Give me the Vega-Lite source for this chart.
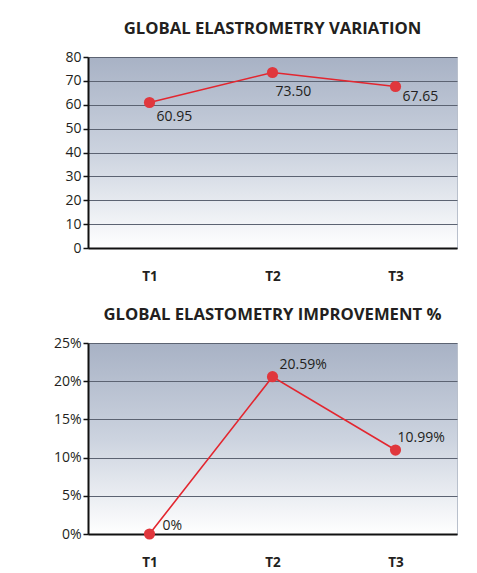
{
  "$schema": "https://vega.github.io/schema/vega-lite/v6.json",
  "background": "white",
  "padding": {"left": 52, "top": 20, "right": 15, "bottom": 8},
  "spacing": 23,
  "datasets": {
    "variation": [
      {"time": "T1", "score": 60.95},
      {"time": "T2", "score": 73.50},
      {"time": "T3", "score": 67.65}
    ],
    "improvement": [
      {"time": "T1", "pct": 0},
      {"time": "T2", "pct": 0.2059},
      {"time": "T3", "pct": 0.1099}
    ]
  },
  "config": {
    "font": "Open Sans",
    "axis": {
      "title": null,
      "labelFont": "Open Sans",
      "labelFontSize": 14,
      "labelColor": "#231f20",
      "domainColor": "#111111",
      "domainWidth": 2,
      "tickColor": "#111111",
      "tickSize": 5,
      "tickWidth": 1.5,
      "gridColor": "#5c6372",
      "gridWidth": 1
    },
    "axisX": {"ticks": false, "grid": false, "labelFontWeight": "bold", "labelPadding": 21, "labelAngle": 0, "labelFontSize": 13.5},
    "axisY": {"grid": true, "labelPadding": 2},
    "view": {
      "stroke": "#b9c0cc",
      "fill": {
        "gradient": "linear",
        "x1": 0, "y1": 0, "x2": 0, "y2": 1,
        "stops": [
          {"offset": 0, "color": "#a8b2c5"},
          {"offset": 0.5, "color": "#ccd3df"},
          {"offset": 1, "color": "#ffffff"}
        ]
      }
    },
    "title": {"font": "Open Sans", "fontSize": 16.7, "fontWeight": "bold", "color": "#231f20", "anchor": "middle", "offset": 12},
    "text": {"font": "Open Sans", "fontSize": 14, "color": "#231f20", "align": "left", "baseline": "middle", "letterSpacing": -0.4}
  },
  "vconcat": [
    {
      "title": "GLOBAL ELASTROMETRY VARIATION",
      "width": 369,
      "height": 191,
      "data": {"name": "variation"},
      "encoding": {
        "x": {"field": "time", "type": "nominal", "sort": null, "scale": {"type": "point", "padding": 0.5}},
        "y": {"field": "score", "type": "quantitative", "scale": {"domain": [0, 80]}, "axis": {"values": [0, 10, 20, 30, 40, 50, 60, 70, 80]}}
      },
      "layer": [
        {"mark": {"type": "line", "color": "#e3262f", "strokeWidth": 1.6}},
        {"mark": {"type": "point", "filled": true, "color": "#e0373d", "size": 125, "opacity": 1}},
        {
          "transform": [{"filter": "datum.time === 'T1'"}],
          "mark": {"type": "text", "dx": 7, "dy": 15},
          "encoding": {"text": {"field": "score", "type": "quantitative", "format": ".2f"}}
        },
        {
          "transform": [{"filter": "datum.time === 'T2'"}],
          "mark": {"type": "text", "dx": 3, "dy": 19},
          "encoding": {"text": {"field": "score", "type": "quantitative", "format": ".2f"}}
        },
        {
          "transform": [{"filter": "datum.time === 'T3'"}],
          "mark": {"type": "text", "dx": 7, "dy": 11},
          "encoding": {"text": {"field": "score", "type": "quantitative", "format": ".2f"}}
        }
      ]
    },
    {
      "title": "GLOBAL ELASTOMETRY IMPROVEMENT %",
      "width": 369,
      "height": 191,
      "data": {"name": "improvement"},
      "encoding": {
        "x": {"field": "time", "type": "nominal", "sort": null, "scale": {"type": "point", "padding": 0.5}},
        "y": {"field": "pct", "type": "quantitative", "scale": {"domain": [0, 0.25]}, "axis": {"values": [0, 0.05, 0.1, 0.15, 0.2, 0.25], "format": ".0%"}}
      },
      "layer": [
        {"mark": {"type": "line", "color": "#e3262f", "strokeWidth": 1.6}},
        {"mark": {"type": "point", "filled": true, "color": "#e0373d", "size": 125, "opacity": 1}},
        {
          "transform": [{"filter": "datum.time === 'T1'"}],
          "mark": {"type": "text", "dx": 13, "dy": -8},
          "encoding": {"text": {"field": "pct", "type": "quantitative", "format": ".2~%"}}
        },
        {
          "transform": [{"filter": "datum.time === 'T2'"}],
          "mark": {"type": "text", "dx": 7, "dy": -12},
          "encoding": {"text": {"field": "pct", "type": "quantitative", "format": ".2~%"}}
        },
        {
          "transform": [{"filter": "datum.time === 'T3'"}],
          "mark": {"type": "text", "dx": 2, "dy": -12},
          "encoding": {"text": {"field": "pct", "type": "quantitative", "format": ".2~%"}}
        }
      ]
    }
  ]
}
